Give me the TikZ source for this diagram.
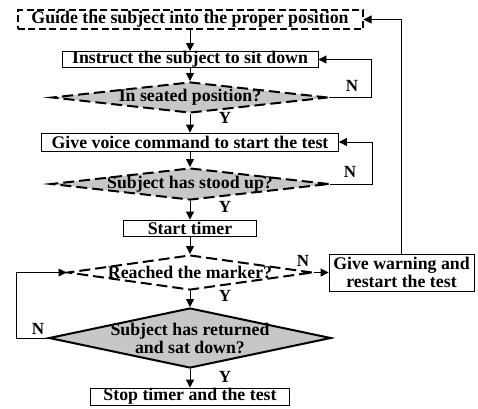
\documentclass[tikz,border=0pt]{standalone}
\usepackage{fontspec}
\setmainfont{Liberation Serif}
\usetikzlibrary{shapes.geometric, arrows.meta}

\begin{document}
\begin{tikzpicture}
  [x=1pt,y=-1pt,
   font=\fontsize{17.8}{18}\selectfont\bfseries,
   every node/.style={inner sep=0pt},
   box/.style={draw,line width=0.8pt,fill=white,rectangle},
   dbox/.style={box,line width=2pt,dash pattern=on 7pt off 3.5pt},
   cond/.style={draw,diamond,line width=2pt,fill=black!22},
   dcond/.style={cond,dash pattern=on 11pt off 5pt},
   flow/.style={line width=0.8pt,-{Triangle[length=8pt,width=8pt]}},
   yn/.style={font=\fontsize{17}{18}\selectfont\bfseries}]
  \useasboundingbox (0,0) rectangle (478,408);
  % boxes
  \node[dbox,minimum width=345pt,minimum height=19pt] (guide) at (190,19.5) {Guide the subject into the proper position};
  \node[box,minimum width=256pt,minimum height=15pt] (sit) at (190,59.5) {Instruct the subject to sit down};
  \node[box,minimum width=297pt,minimum height=18pt] (voice) at (190,142) {Give voice command to start the test};
  \node[box,minimum width=133pt,minimum height=16pt] (timer) at (190,228) {Start timer};
  \node[box,minimum width=145pt,minimum height=37pt,align=center] (warn) at (401.5,272.5) {Give warning and\\restart the test};
  \node[box,minimum width=199pt,minimum height=17pt] (stop) at (190,396.5) {Stop timer and the test};
  % decisions
  \node[dcond,minimum width=276pt,minimum height=31pt] (seated) at (190,97.5) {};
  \node (seatedtxt) at (seated) {In seated position?};
  \node[dcond,minimum width=278pt,minimum height=32pt] (stood) at (190,184) {};
  \node (stoodtxt) at (stood) {Subject has stood up?};
  \node[dcond,fill=white,minimum width=245pt,minimum height=35pt] (marker) at (190,272.5) {};
  \node (markertxt) at (marker) {Reached the marker?};
  \node[cond,minimum width=282pt,minimum height=60pt] (back) at (190,338) {};
  \node[align=center] (backtxt) at (back) {Subject has returned\\and sat down?};
  % main line
  \draw[flow] (guide) -- (sit);
  \draw[flow] (sit) -- (seated);
  \draw[flow] (seated) -- (voice);
  \draw[flow] (voice) -- (stood);
  \draw[flow] (stood) -- (timer);
  \draw[flow] (timer) -- (marker);
  \draw[flow] (marker) -- (back);
  \draw[flow] (back) -- (stop);
  % loops
  \draw[flow] (seated.east) -- ++(42,0) |- (sit.east);
  \draw[flow] (stood.east) -- ++(42,0) |- (voice.east);
  \draw[flow] (marker.east) -- (warn.west);
  \draw[flow] (warn.north) |- (guide.east);
  \draw[flow] (back.west) -- ++(-32,0) |- (marker.west);
  % labels
  \node[yn] (y1) at (225,118) {Y};
  \node[yn] (y2) at (225,207) {Y};
  \node[yn] (y3) at (225,296) {Y};
  \node[yn] (y4) at (225,377) {Y};
  \node[yn] (n1) at (352,86) {N};
  \node[yn] (n2) at (350,172) {N};
  \node[yn] (n3) at (303,261) {N};
  \node[yn] (n4) at (38,329) {N};
\end{tikzpicture}
\end{document}
